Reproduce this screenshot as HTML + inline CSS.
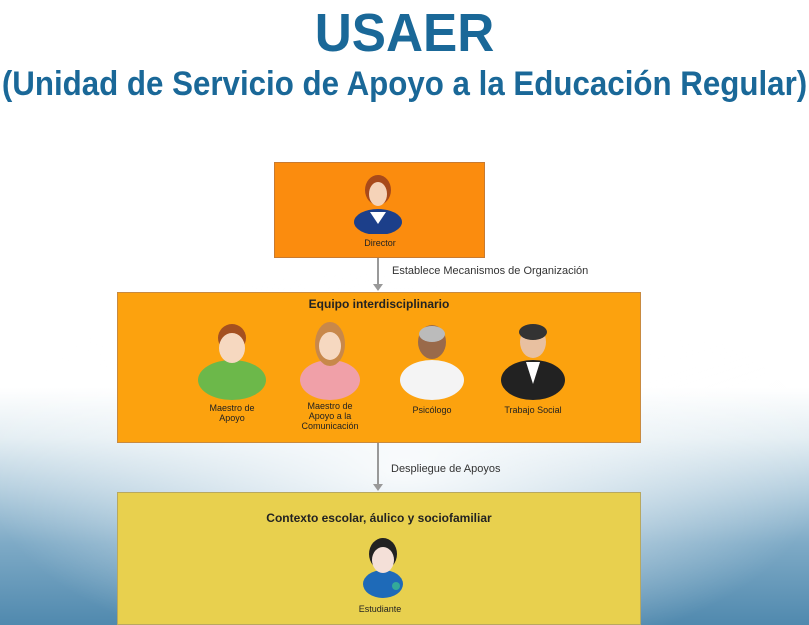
<!DOCTYPE html>
<html><head><meta charset="utf-8"><style>
body{margin:0;width:809px;height:625px;overflow:hidden;font-family:"Liberation Sans",sans-serif;position:relative;
background:radial-gradient(ellipse 420px 200px at 404px 470px,rgba(255,255,255,0.9) 0%,rgba(255,255,255,0) 100%),linear-gradient(to bottom,#ffffff 0%,#ffffff 62%,#e4eef3 70%,#b5cfdf 78%,#7eaac6 87%,#5089ae 100%);}
.abs{position:absolute}
.box{position:absolute;box-sizing:border-box}
.lbl{position:absolute;font-size:9px;color:#222;text-align:center;line-height:10px}
</style></head><body>
<div class="abs" style="left:0;width:809px;top:2px;text-align:center;font-size:54px;font-weight:bold;color:#1a6898;transform:scaleX(0.95)">USAER</div>
<div class="abs" style="left:-150px;width:1109px;top:65px;text-align:center;font-size:34px;font-weight:bold;color:#1a6898;white-space:nowrap;transform:scaleX(0.92)">(Unidad de Servicio de Apoyo a la Educación Regular)</div>

<div class="box" style="left:274px;top:162px;width:211px;height:96px;background:#fb8c0e;border:1px solid #c87a30"></div>
<svg class="abs" style="left:350px;top:170px" width="56" height="64" viewBox="0 0 56 64">
<ellipse cx="28" cy="52" rx="24" ry="13" fill="#1c3f8a"/><path d="M20 42 L28 54 L36 42Z" fill="#fff"/>
<ellipse cx="28" cy="20" rx="13" ry="15" fill="#a84a1a"/><ellipse cx="28" cy="24" rx="9" ry="12" fill="#f5d3b8"/></svg>
<div class="lbl" style="left:340px;top:238px;width:80px">Director</div>

<div class="abs" style="left:377px;top:258px;width:2px;height:28px;background:#999"></div>
<div class="abs" style="left:373px;top:284px;width:0;height:0;border-left:5px solid transparent;border-right:5px solid transparent;border-top:7px solid #999"></div>
<div class="abs" style="left:392px;top:265px;font-size:11px;color:#333">Establece Mecanismos de Organización</div>

<div class="box" style="left:117px;top:292px;width:524px;height:151px;background:#fca20e;border:1px solid #c88a40"></div>
<div class="abs" style="left:117px;width:524px;top:297px;text-align:center;font-size:12px;font-weight:bold;color:#222">Equipo interdisciplinario</div>
<svg class="abs" style="left:190px;top:318px" width="390" height="82" viewBox="0 0 390 82">
<ellipse cx="42" cy="62" rx="34" ry="20" fill="#6cb84a"/><ellipse cx="42" cy="20" rx="14" ry="14" fill="#a45020"/><ellipse cx="42" cy="30" rx="13" ry="15" fill="#f6d8c0"/>
<ellipse cx="140" cy="62" rx="30" ry="20" fill="#f0a0a8"/><ellipse cx="140" cy="26" rx="15" ry="22" fill="#c8884a"/><ellipse cx="140" cy="28" rx="11" ry="14" fill="#f6d8c0"/>
<ellipse cx="242" cy="62" rx="32" ry="20" fill="#f4f4f4"/><ellipse cx="242" cy="24" rx="14" ry="17" fill="#9a6a4a"/><ellipse cx="242" cy="16" rx="13" ry="8" fill="#bbb"/>
<ellipse cx="343" cy="62" rx="32" ry="20" fill="#222"/><path d="M336 44 L343 66 L350 44Z" fill="#fff"/><ellipse cx="343" cy="24" rx="13" ry="16" fill="#e8c0a0"/><ellipse cx="343" cy="14" rx="14" ry="8" fill="#333"/>
</svg>
<div class="lbl" style="left:192px;top:403px;width:80px">Maestro de<br>Apoyo</div>
<div class="lbl" style="left:290px;top:401px;width:80px">Maestro de<br>Apoyo a la<br>Comunicación</div>
<div class="lbl" style="left:392px;top:405px;width:80px">Psicólogo</div>
<div class="lbl" style="left:493px;top:405px;width:80px">Trabajo Social</div>

<div class="abs" style="left:377px;top:443px;width:2px;height:42px;background:#999"></div>
<div class="abs" style="left:373px;top:484px;width:0;height:0;border-left:5px solid transparent;border-right:5px solid transparent;border-top:7px solid #999"></div>
<div class="abs" style="left:391px;top:463px;font-size:11px;color:#333">Despliegue de Apoyos</div>

<div class="box" style="left:117px;top:492px;width:524px;height:133px;background:#e8d04e;border:1px solid #b8a860"></div>
<div class="abs" style="left:117px;width:524px;top:511px;text-align:center;font-size:12px;font-weight:bold;color:#222">Contexto escolar, áulico y sociofamiliar</div>
<svg class="abs" style="left:354px;top:534px" width="58" height="64" viewBox="0 0 58 64">
<ellipse cx="29" cy="50" rx="20" ry="14" fill="#1e6ab8"/><ellipse cx="29" cy="20" rx="14" ry="16" fill="#222"/><ellipse cx="29" cy="26" rx="11" ry="13" fill="#f4e0d8"/><circle cx="42" cy="52" r="4" fill="#3a9"/></svg>
<div class="lbl" style="left:340px;top:604px;width:80px">Estudiante</div>
</body></html>
